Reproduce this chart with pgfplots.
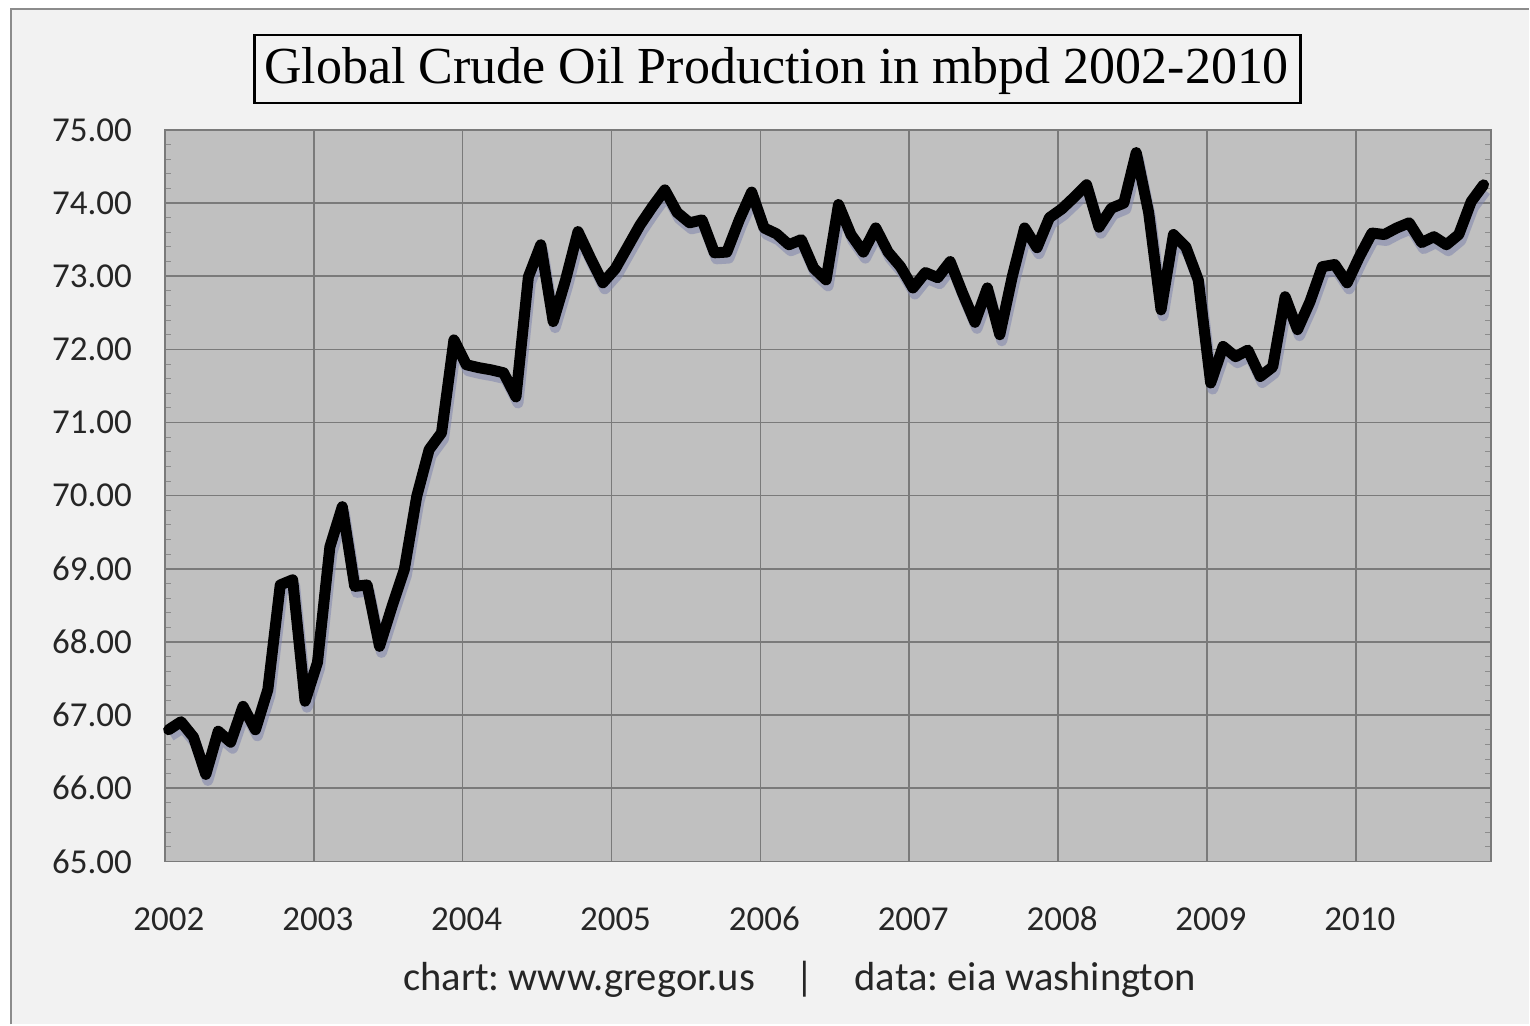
\documentclass[border=0pt]{standalone}
\usepackage{pgfplots}
\usepackage{pgfplotstable}
\pgfplotsset{compat=1.18}
\usepackage{fontspec}
\setmainfont{Carlito}
\newfontfamily\titlefont{Liberation Serif}
\definecolor{chartbg}{HTML}{F2F2F2}
\definecolor{plotbg}{HTML}{C0C0C0}
\definecolor{gridc}{HTML}{7A7A7A}
\definecolor{shadowc}{rgb}{0.50,0.52,0.68}
\frenchspacing
\pgfplotstableread{
m v
0 66.80
1 66.91
2 66.70
3 66.19
4 66.78
5 66.63
6 67.12
7 66.80
8 67.35
9 68.78
10 68.85
11 67.19
12 67.72
13 69.30
14 69.85
15 68.76
16 68.78
17 67.94
18 68.48
19 68.99
20 69.99
21 70.63
22 70.86
23 72.13
24 71.79
25 71.75
26 71.72
27 71.68
28 71.35
29 72.99
30 73.43
31 72.38
32 72.95
33 73.61
34 73.25
35 72.91
36 73.10
37 73.40
38 73.70
39 73.95
40 74.18
41 73.87
42 73.73
43 73.77
44 73.32
45 73.33
46 73.77
47 74.15
48 73.66
49 73.58
50 73.43
51 73.50
52 73.11
53 72.95
54 73.98
55 73.57
56 73.33
57 73.66
58 73.33
59 73.13
60 72.84
61 73.05
62 72.98
63 73.20
64 72.77
65 72.37
66 72.84
67 72.20
68 72.99
69 73.66
70 73.39
71 73.80
72 73.92
73 74.08
74 74.25
75 73.67
76 73.93
77 74.00
78 74.69
79 73.87
80 72.54
81 73.57
82 73.40
83 72.95
84 71.54
85 72.04
86 71.90
87 71.99
88 71.63
89 71.76
90 72.72
91 72.27
92 72.65
93 73.13
94 73.16
95 72.91
96 73.27
97 73.59
98 73.57
99 73.66
100 73.73
101 73.46
102 73.54
103 73.43
104 73.57
105 74.02
106 74.25
}\oil
\begin{document}
\begin{tikzpicture}
\fill[white] (0,0) rectangle (765pt,-512.5pt);
\fill[chartbg] (5.5pt,-4.5pt) rectangle (765pt,-512.5pt);
\draw[black!45, line width=1pt] (5.5pt,-512.5pt) -- (5.5pt,-4.5pt) -- (765pt,-4.5pt);
\draw[black, line width=1.4pt] (127.5pt,-17.5pt) rectangle (650.5pt,-51.5pt);
\node[font=\titlefont\fontsize{26}{30}\selectfont, inner sep=0pt] at (388.5pt,-35.5pt) {Global Crude Oil Production in mbpd 2002-2010};
\begin{axis}[
  at={(82.5pt,-431pt)}, anchor=south west,
  scale only axis, width=663.5pt, height=366pt,
  xmin=0, xmax=106.9, ymin=65, ymax=75,
  axis background/.style={fill=plotbg},
  axis line style={gridc, line width=0.8pt},
  xtick={0,12,...,96},
  xticklabels={2002,2003,2004,2005,2006,2007,2008,2009,2010},
  ytick={65,66,...,75},
  minor y tick num=4,
  grid=major,
  major grid style={gridc, line width=0.8pt},
  tick style={draw=none},
  minor tick style={draw=black!45, line width=0.5pt},
  minor tick length=3pt,
  tick align=inside,
  /pgf/number format/fixed,
  /pgf/number format/fixed zerofill,
  /pgf/number format/precision=2,
  /pgf/number format/assume math mode=true,
  ticklabel style={font=\fontsize{17.5}{20}\selectfont, text=black!85},
  xticklabel style={yshift=-19pt, xshift=2pt, text height=12pt, text depth=0pt},
  yticklabel style={xshift=-13pt},
  clip=false,
]
\addplot[shadowc, opacity=0.55, line width=5.5pt, line join=round, xshift=1pt, yshift=-3pt] table[x expr=\thisrow{m}+0.3,y=v] {\oil};
\addplot[black, line width=5.5pt, line join=round, line cap=round] table[x expr=\thisrow{m}+0.3,y=v] {\oil};
\end{axis}
\node[font=\fontsize{20.3}{24}\selectfont, text=black!85] at (400pt,-490pt) {chart: www.gregor.us\quad|\quad data: eia washington};
\end{tikzpicture}
\end{document}
